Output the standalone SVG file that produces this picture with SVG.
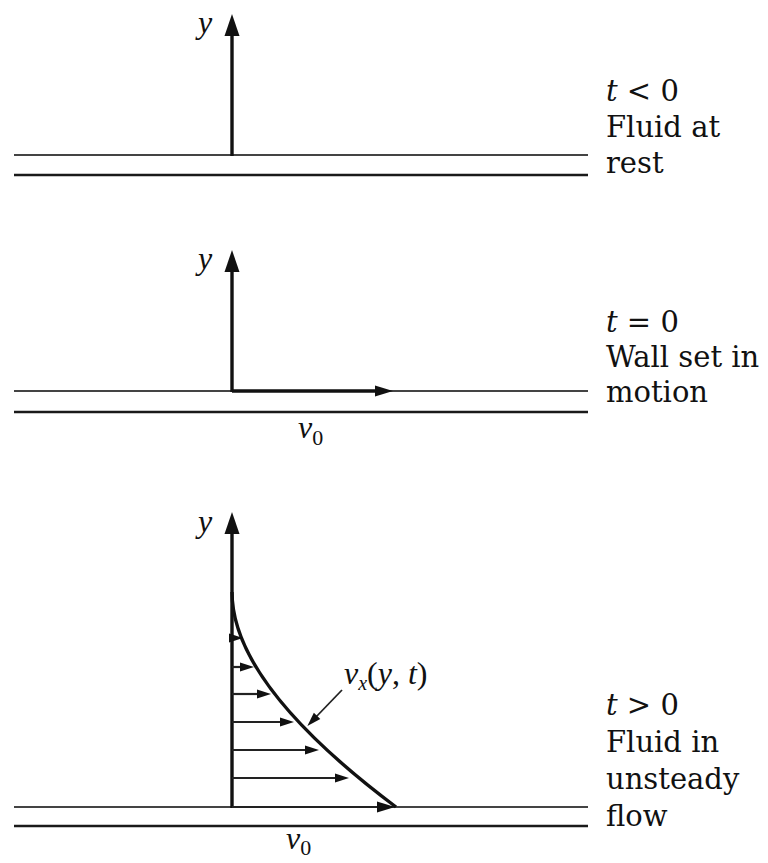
<svg xmlns="http://www.w3.org/2000/svg" width="768" height="863" viewBox="0 0 768 863">
<style>
.bg{fill:#fff}
.axis{stroke:#111;stroke-width:3.4;fill:none}
.wallu{stroke:#444;stroke-width:1.8}
.walll{stroke:#1a1a1a;stroke-width:2.4}
.vel{stroke:#222;stroke-width:2.2}
.curve{stroke:#111;stroke-width:3.4;fill:none}
.lead{stroke:#222;stroke-width:1.8}
.lbl{font-family:"DejaVu Serif","Liberation Serif",serif;font-size:29px;fill:#111}
.math{font-family:"Liberation Serif","DejaVu Serif",serif;font-style:italic;font-size:32px;fill:#111}
.it{font-style:italic}
</style>
<defs>
<marker id="ahBig" markerUnits="userSpaceOnUse" markerWidth="24" markerHeight="16" refX="6" refY="7.5" orient="auto" overflow="visible"><path d="M0,0 L22,7.5 L0,15 Z" fill="#111"/></marker>
<marker id="ahMid" markerUnits="userSpaceOnUse" markerWidth="20" markerHeight="12" refX="4" refY="5.5" orient="auto" overflow="visible"><path d="M0,0 L18,5.5 L0,11 Z" fill="#111"/></marker>
<marker id="ahSmall" markerUnits="userSpaceOnUse" markerWidth="16" markerHeight="10" refX="3" refY="4.5" orient="auto" overflow="visible"><path d="M0,0 L14,4.5 L0,9 Z" fill="#111"/></marker>
</defs>
<rect class="bg" x="0" y="0" width="768" height="863"/>

<g id="panel1">
<line class="wallu" x1="14" y1="155" x2="588" y2="155"/>
<line class="walll" x1="14" y1="175" x2="588" y2="175"/>
<text class="math" x="198" y="33">y</text>
<text class="lbl" x="606" y="101"><tspan class="it">t</tspan> &lt; 0</text>
<text class="lbl" x="606" y="137">Fluid at</text>
<text class="lbl" x="606" y="173">rest</text>
</g>

<g id="panel2">
<line class="wallu" x1="14" y1="391" x2="588" y2="391"/>
<line class="walll" x1="14" y1="412" x2="588" y2="412"/>
<text class="math" x="198" y="269">y</text>
<text class="math" x="298" y="438" font-size="34">v<tspan font-size="22" font-style="normal" dy="7">0</tspan></text>
<text class="lbl" x="606" y="332"><tspan class="it">t</tspan> = 0</text>
<text class="lbl" x="606" y="367">Wall set in</text>
<text class="lbl" x="606" y="402">motion</text>
</g>

<g id="panel3">
<line class="wallu" x1="14" y1="807" x2="588" y2="807"/>
<line class="walll" x1="14" y1="826" x2="588" y2="826"/>
<path class="curve" d="M232,592 C232,660 300,735 396,807"/>
<text class="math" x="198" y="532">y</text>
<text class="math" x="286" y="849" font-size="34">v<tspan font-size="22" font-style="normal" dy="6">0</tspan></text>
<text class="math" font-size="30" x="344" y="684">v<tspan font-size="20" dy="6">x</tspan><tspan font-style="normal" dy="-6">(</tspan>y<tspan font-style="normal">, </tspan>t<tspan font-style="normal">)</tspan></text>
<text class="lbl" x="606" y="715"><tspan class="it">t</tspan> &gt; 0</text>
<text class="lbl" x="606" y="752">Fluid in</text>
<text class="lbl" x="606" y="789">unsteady</text>
<text class="lbl" x="606" y="826">flow</text>
</g>

<g id="connectors">
<line class="axis" x1="232" y1="156" x2="232" y2="30" marker-end="url(#ahBig)"/>
<line class="axis" x1="232" y1="392" x2="232" y2="266" marker-end="url(#ahBig)"/>
<line class="axis" x1="232" y1="391" x2="379" y2="391" marker-end="url(#ahMid)"/>
<line class="axis" x1="232" y1="808" x2="232" y2="528" marker-end="url(#ahBig)"/>
<line class="vel" x1="231" y1="638" x2="232" y2="638" marker-end="url(#ahSmall)"/>
<line class="vel" x1="232" y1="667" x2="243" y2="667" marker-end="url(#ahSmall)"/>
<line class="vel" x1="232" y1="694" x2="260" y2="694" marker-end="url(#ahSmall)"/>
<line class="vel" x1="232" y1="722" x2="283" y2="722" marker-end="url(#ahSmall)"/>
<line class="vel" x1="232" y1="750" x2="308" y2="750" marker-end="url(#ahSmall)"/>
<line class="vel" x1="232" y1="778" x2="338" y2="778" marker-end="url(#ahSmall)"/>
<line class="vel" x1="232" y1="807" x2="381" y2="807" marker-end="url(#ahMid)"/>
<line class="lead" x1="342" y1="690" x2="315" y2="718" marker-end="url(#ahSmall)"/>
</g>
</svg>
